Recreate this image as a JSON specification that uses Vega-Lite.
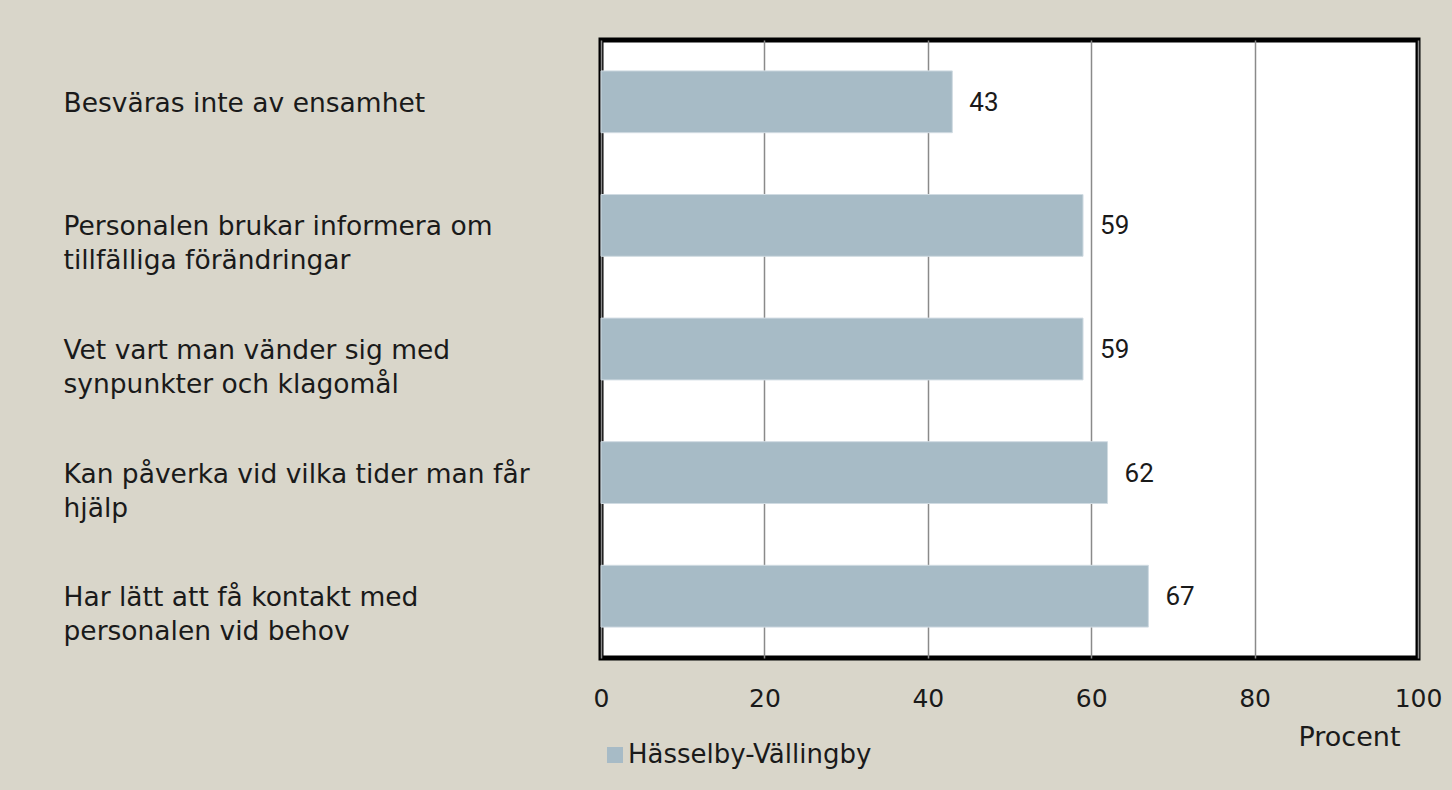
{
  "$schema": "https://vega.github.io/schema/vega-lite/v6.json",
  "autosize": "none",
  "width": 817,
  "height": 618,
  "padding": {"left": 601, "top": 40, "right": 34, "bottom": 132},
  "background": "#D9D6CA",
  "config": {
    "view": {"fill": "#FFFFFF", "stroke": "#000000", "strokeWidth": 5},
    "font": "DejaVu Sans"
  },
  "data": {
    "values": [
      {"fraga": "Besväras inte av ensamhet", "omrade": "Hässelby-Vällingby", "procent": 43},
      {"fraga": "Personalen brukar informera om|tillfälliga förändringar", "omrade": "Hässelby-Vällingby", "procent": 59},
      {"fraga": "Vet vart man vänder sig med|synpunkter och klagomål", "omrade": "Hässelby-Vällingby", "procent": 59},
      {"fraga": "Kan påverka vid vilka tider man får|hjälp", "omrade": "Hässelby-Vällingby", "procent": 62},
      {"fraga": "Har lätt att få kontakt med|personalen vid behov", "omrade": "Hässelby-Vällingby", "procent": 67}
    ]
  },
  "encoding": {
    "y": {
      "field": "fraga",
      "type": "nominal",
      "sort": null,
      "scale": {"paddingInner": 0.5, "paddingOuter": 0.25},
      "axis": {
        "title": null,
        "domain": false,
        "ticks": false,
        "tickSize": 0,
        "grid": false,
        "labelExpr": "split(datum.label, '|')",
        "labelAlign": "left",
        "labelBaseline": "alphabetic",
        "labelPadding": 538,
        "labelOffset": 10,
        "labelLineHeight": 34,
        "labelFont": "DejaVu Sans",
        "labelFontSize": 26.5,
        "labelColor": "#1A1A1A",
        "labelLimit": 0
      }
    },
    "x": {
      "field": "procent",
      "type": "quantitative",
      "scale": {"domain": [0, 100], "nice": false},
      "axis": {
        "values": [0, 20, 40, 60, 80, 100],
        "title": "Procent",
        "titleAnchor": "end",
        "titleAlign": "right",
        "titleX": 799,
        "titleY": 87,
        "titleBaseline": "alphabetic",
        "titleFont": "DejaVu Sans",
        "titleFontSize": 27,
        "titleFontWeight": "normal",
        "titleColor": "#1A1A1A",
        "domain": false,
        "ticks": false,
        "tickSize": 0,
        "grid": true,
        "gridColor": "#8A8A8A",
        "gridWidth": 1.5,
        "labelFont": "DejaVu Sans",
        "labelFontSize": 25,
        "labelColor": "#1A1A1A",
        "labelBaseline": "alphabetic",
        "labelPadding": 48,
        "labelFlush": false,
        "labelOverlap": false
      }
    }
  },
  "layer": [
    {
      "mark": {"type": "bar", "stroke": "#D0DBE2", "strokeWidth": 1},
      "encoding": {
        "color": {
          "field": "omrade",
          "type": "nominal",
          "scale": {"domain": ["Hässelby-Vällingby"], "range": ["#A7BBC6"]},
          "legend": {
            "title": null,
            "orient": "none",
            "legendX": 1,
            "legendY": 702,
            "padding": 0,
            "symbolType": "square",
            "symbolSize": 256,
            "symbolStrokeWidth": 0,
            "symbolOpacity": 1,
            "labelFont": "DejaVu Sans",
            "labelFontSize": 26,
            "labelColor": "#1A1A1A",
            "labelOffset": 0,
            "labelLimit": 0
          }
        }
      }
    },
    {
      "mark": {"type": "text", "align": "left", "baseline": "middle", "dx": 17, "dy": 1, "font": "Roboto", "fontSize": 26, "color": "#1A1A1A"},
      "encoding": {"text": {"field": "procent", "type": "quantitative"}}
    }
  ]
}
